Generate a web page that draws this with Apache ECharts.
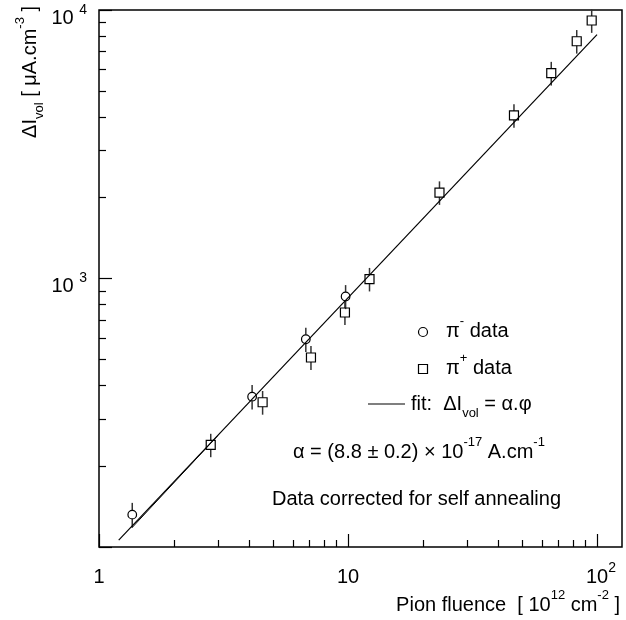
<!DOCTYPE html>
<html><head><meta charset="utf-8">
<script src="https://cdn.jsdelivr.net/npm/echarts@6/dist/echarts.min.js"></script>
<style>html,body{margin:0;padding:0;background:#fff}#c{width:626px;height:620px}</style>
</head><body><div id="c"></div>
<script>
// ---- data ----
const piMinusFluence = [1.36, 4.12, 6.77, 9.78];
const piMinusCurrent = [132, 363, 594, 857];
const piMinusError   = [14, 38, 62, 88];

const piPlusFluence = [2.81, 4.54, 7.10, 9.72, 12.2, 23.3, 46.4, 65.5, 82.9, 95.2];
const piPlusCurrent = [240, 346, 508, 747, 995, 2090, 4050, 5820, 7650, 9140];
const piPlusError   = [24, 35, 52, 76, 100, 210, 410, 590, 770, 920];

const fitFluence  = [1.2, 100];
const fitCurrent  = [106, 8100];
const fit2Fluence = [1.36, 3.0];
const fit2Current = [118.3, 260];

const xMajorTicks = [1, 10, 100];
const xMinorTicks = [2, 3, 4, 5, 6, 7, 8, 9, 20, 30, 40, 50, 60, 70, 80, 90];
const yMajorTicks = [100, 1000, 10000];
const yMinorTicks = [200, 300, 400, 500, 600, 700, 800, 900, 2000, 3000, 4000, 5000, 6000, 7000, 8000, 9000];
const xTickMantissa = ['1', '10', '10'];
const xTickExponent = ['', '', '2'];
const yLabelValues  = [1000, 10000];
const yTickMantissa = ['10 ', '10 '];
const yTickExponent = ['3', '4'];

// ---- chart ----
const FONT = '"Liberation Sans", Arial, Helvetica, sans-serif';
const chart = echarts.init(document.getElementById('c'), null, {renderer: 'canvas'});

const zip3 = (a, b, c) => a.map((v, i) => [v, b[i], c[i]]);
const zip2 = (a, b) => a.map((v, i) => [v, b[i]]);

function pointRenderer(kind) {
  return function (params, api) {
    const x = api.value(0), y = api.value(1), e = api.value(2);
    const p = api.coord([x, y]);
    const pt = api.coord([x, y + e]);
    const pb = api.coord([x, y - e]);
    const r = 4.5;
    const barStyle = {stroke: '#333', lineWidth: 1.5};
    const children = [
      {type: 'line', shape: {x1: p[0], y1: pt[1], x2: p[0], y2: p[1] - r}, style: barStyle},
      {type: 'line', shape: {x1: p[0], y1: p[1] + r, x2: p[0], y2: pb[1]}, style: barStyle}
    ];
    if (kind === 'circle') {
      children.push({type: 'circle', shape: {cx: p[0], cy: p[1], r: 4.3}, style: {fill: 'none', stroke: '#000', lineWidth: 1.2}});
    } else {
      children.push({type: 'rect', shape: {x: p[0] - 4.5, y: p[1] - 4.5, width: 9, height: 9}, style: {fill: 'none', stroke: '#000', lineWidth: 1.2}});
    }
    return {type: 'group', children};
  };
}

const baseRich = {
  b:   {fontSize: 20, fontFamily: FONT, color: '#000', lineHeight: 32},
  sup: {fontSize: 14, fontFamily: FONT, color: '#000', lineHeight: 16, verticalAlign: 'top'},
  pad: {fontSize: 14, fontFamily: FONT, width: 8, lineHeight: 16}
};

const yRich = {
  b4:   {fontSize: 20, fontFamily: FONT, color: '#000', lineHeight: 20, verticalAlign: 'bottom'},
  sup4: {fontSize: 14, fontFamily: FONT, color: '#000', lineHeight: 36, verticalAlign: 'middle'}
};

const textRich = {
  b:   {fontSize: 20, fontFamily: FONT, fill: '#000', color: '#000', lineHeight: 32},
  sup: {fontSize: 13, fontFamily: FONT, fill: '#000', color: '#000', lineHeight: 16, verticalAlign: 'top'},
  sub: {fontSize: 13, fontFamily: FONT, fill: '#000', color: '#000', lineHeight: 12, verticalAlign: 'bottom'}
};

function richText(x, y, text, align, rotation) {
  return {
    type: 'text', x: x, y: y, rotation: rotation || 0, z: 100,
    style: {text: text, rich: textRich, align: align || 'left', verticalAlign: 'middle',
            fontSize: 20, fontFamily: FONT, fill: '#000'}
  };
}

const gridDef = {left: 99, right: 4, top: 10, bottom: 73, show: true, borderColor: '#000', borderWidth: 1.5,
                 backgroundColor: 'transparent', containLabel: false, outerBoundsMode: 'none'};

const option = {
  backgroundColor: '#fff',
  animation: false,
  grid: gridDef,
  xAxis: [
    {
      type: 'log', logBase: 10, min: 1, max: 126, position: 'bottom',
      axisLine: {show: false},
      splitLine: {show: false},
      minorTick: {show: false}, minorSplitLine: {show: false},
      axisTick: {show: true, inside: true, length: 13, customValues: xMajorTicks, lineStyle: {color: '#000', width: 1.2}},
      axisLabel: {
        show: true, customValues: xMajorTicks, margin: 14, color: '#000', hideOverlap: false,
        formatter: function (v) {
          const i = xMajorTicks.findIndex(t => Math.abs(t - v) / t < 1e-6);
          if (i < 0) return '';
          return xTickExponent[i] ? '{pad| }{b|' + xTickMantissa[i] + '}{sup|' + xTickExponent[i] + '}' : '{b|' + xTickMantissa[i] + '}';
        },
        rich: baseRich
      }
    },
    {
      type: 'log', logBase: 10, min: 1, max: 126, position: 'bottom',
      axisLine: {show: false}, splitLine: {show: false}, axisLabel: {show: false},
      axisTick: {show: true, inside: true, length: 7, customValues: xMinorTicks, lineStyle: {color: '#000', width: 1.2}}
    }
  ],
  yAxis: [
    {
      type: 'log', logBase: 10, min: 100, max: 10000, position: 'left',
      axisLine: {show: false}, splitLine: {show: false},
      minorTick: {show: false}, minorSplitLine: {show: false},
      axisTick: {show: true, inside: true, length: 13, customValues: yMajorTicks, lineStyle: {color: '#000', width: 1.2}},
      axisLabel: {
        show: true, customValues: yLabelValues, margin: 12, color: '#000', hideOverlap: false,
        formatter: function (v) {
          const i = yLabelValues.findIndex(t => Math.abs(t - v) / t < 1e-6);
          if (i < 0) return '';
          return '{b4|' + yTickMantissa[i] + '}{sup4|' + yTickExponent[i] + '}';
        },
        rich: yRich
      }
    },
    {
      type: 'log', logBase: 10, min: 100, max: 10000, position: 'left',
      axisLine: {show: false}, splitLine: {show: false}, axisLabel: {show: false},
      axisTick: {show: true, inside: true, length: 7, customValues: yMinorTicks, lineStyle: {color: '#000', width: 1.2}}
    }
  ],
  series: [
    {type: 'line', name: 'fit', data: zip2(fitFluence, fitCurrent), symbol: 'none', xAxisIndex: 0, yAxisIndex: 0,
     lineStyle: {color: '#000', width: 1.2}, silent: true},
    {type: 'line', name: 'fit2', data: zip2(fit2Fluence, fit2Current), symbol: 'none', xAxisIndex: 0, yAxisIndex: 0,
     lineStyle: {color: '#000', width: 1.0}, silent: true},
    {type: 'custom', name: 'pi-', xAxisIndex: 0, yAxisIndex: 0, clip: false,
     data: zip3(piMinusFluence, piMinusCurrent, piMinusError), encode: {x: 0, y: 1},
     renderItem: pointRenderer('circle')},
    {type: 'custom', name: 'pi+', xAxisIndex: 0, yAxisIndex: 0, clip: false,
     data: zip3(piPlusFluence, piPlusCurrent, piPlusError), encode: {x: 0, y: 1},
     renderItem: pointRenderer('square')}
  ],
  graphic: [
    // legend markers
    {type: 'circle', shape: {cx: 423, cy: 332, r: 4.5}, style: {fill: 'none', stroke: '#000', lineWidth: 1.2}, z: 100},
    {type: 'rect', shape: {x: 418.5, y: 364.5, width: 9, height: 9}, style: {fill: 'none', stroke: '#000', lineWidth: 1.2}, z: 100},
    {type: 'line', shape: {x1: 368, y1: 404, x2: 405, y2: 404}, style: {stroke: '#000', lineWidth: 1.2}, z: 100},
    richText(446, 331, '{b|π}{sup|-}{b| data}'),
    richText(446, 368, '{b|π}{sup|+}{b| data}'),
    richText(411, 404, '{b|fit:  ΔI}{sub|vol}{b| = α.φ}'),
    richText(293, 452, '{b|α = (8.8 ± 0.2) × 10}{sup|-17}{b| A.cm}{sup|-1}'),
    richText(272, 499, '{b|Data corrected for self annealing}'),
    // axis titles
    richText(620, 605, '{b|Pion fluence  [ 10}{sup|12}{b| cm}{sup|-2}{b| ]}', 'right'),
    richText(30, 6, '{b|ΔI}{sub|vol}{b| [ μA.cm}{sup|-3}{b| ]}', 'right', Math.PI / 2)
  ]
};
chart.setOption(option);
</script>
</body></html>
